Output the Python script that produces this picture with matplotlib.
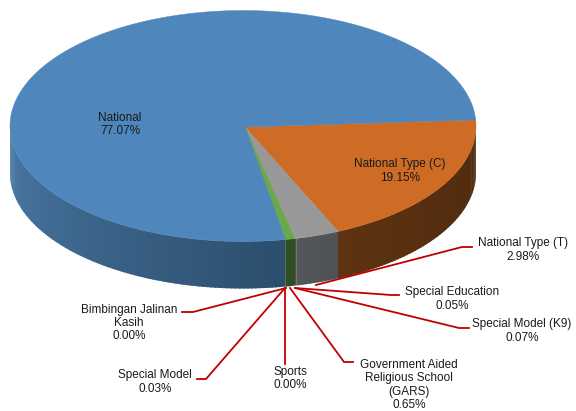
import numpy as np
import matplotlib
matplotlib.use('Agg')
import matplotlib.pyplot as plt
from matplotlib.colors import to_rgb
from matplotlib.patches import Polygon

plt.rcParams['font.family'] = ['Liberation Sans', 'DejaVu Sans']

# clockwise from the right hand side of the pie
names = ['National Type (C)', 'National Type (T)', 'Special Education', 'Special Model (K9)',
         'Government Aided\nReligious School\n(GARS)', 'Sports', 'Special Model',
         'Bimbingan Jalinan\nKasih', 'National']
shares = [19.15, 2.98, 0.05, 0.07, 0.65, 0.00, 0.03, 0.00, 77.07]
top_colors = ['#CE6C26', '#989898', '#989898', '#989898', '#6AA84F', '#6AA84F', '#6AA84F', '#6AA84F', '#4F86BB']
side_start = ['#4E2A0E', '#4F5254', '#4F5254', '#4F5254', '#2D4F1F', '#2D4F1F', '#2D4F1F', '#2D4F1F', '#2C4E6E']
side_end = ['#5E3311', '#55575A', '#55575A', '#55575A', '#2D4F1F', '#2D4F1F', '#2D4F1F', '#2D4F1F', '#4A7BA6']

label_x = [400, 523, 452, 522, 409, 290, 155, 129, 120]
label_y = [171, 250, 299, 331, 385, 378.5, 382, 323, 124.5]

leader_x = [[316, 462, 472], [295, 391, 399], [295, 459, 469], [290, 344, 353],
            [284.5, 284.5], [285, 206, 197], [286, 193, 182]]
leader_y = [[285, 247, 247], [288, 295, 295], [288, 328, 328], [288, 362, 362],
            [288, 364], [288, 379, 379], [288, 312, 312]]

cx, cy = 243, 126
rx, ry = 233, 115.5
depth = 47
start = -3


def arc(a0, a1):
    t = np.radians(np.linspace(a0, a1, max(int(abs(a1 - a0) * 2), 2)))
    return cx + rx * np.cos(t), cy + ry * np.sin(t)


fig = plt.figure(figsize=(5.76, 4.11), dpi=100)
ax = fig.add_axes([0, 0, 1, 1])
ax.set_xlim(0, 576)
ax.set_ylim(411, 0)
ax.axis('off')

edges = start + np.concatenate([[0], np.cumsum(shares)]) * 3.6

# side wall, thin overlapping strips so the shading has no seams
for i in range(len(shares)):
    a0, a1 = max(edges[i], 0), min(edges[i + 1], 180)
    if a1 <= a0:
        continue
    c0, c1 = np.array(to_rgb(side_start[i])), np.array(to_rgb(side_end[i]))
    steps = np.arange(a0, a1 + 1, 1.0)
    steps[-1] = a1
    # go from the far ends towards the front so overlaps stay tidy
    for s0, s1 in zip(steps[:-1], steps[1:]):
        frac = (s0 - a0) / max(a1 - a0, 1e-6)
        x, y = arc(s0, min(s1 + 0.6, a1))
        pts = np.column_stack([np.r_[x, x[::-1]], np.r_[y, y[::-1] + depth]])
        ax.add_patch(Polygon(pts, closed=True, fc=c0 + (c1 - c0) * frac, ec='none'))

# top face
for i in range(len(shares)):
    x, y = arc(edges[i], edges[i + 1])
    pts = np.column_stack([np.r_[cx + 2, x], np.r_[cy + 1, y]])
    ax.add_patch(Polygon(pts, closed=True, fc=top_colors[i], ec=top_colors[i], lw=0.3))

for xs, ys in zip(leader_x, leader_y):
    ax.plot(xs, ys, color='#C00000', lw=1.3, solid_joinstyle='miter')

for name, share, x, y in zip(names, shares, label_x, label_y):
    ax.text(x, y, '%s\n%.2f%%' % (name, share), ha='center', va='center',
            fontsize=8.5, color='#1a1a1a', linespacing=1.15)

fig.savefig('out.png', dpi=100)
